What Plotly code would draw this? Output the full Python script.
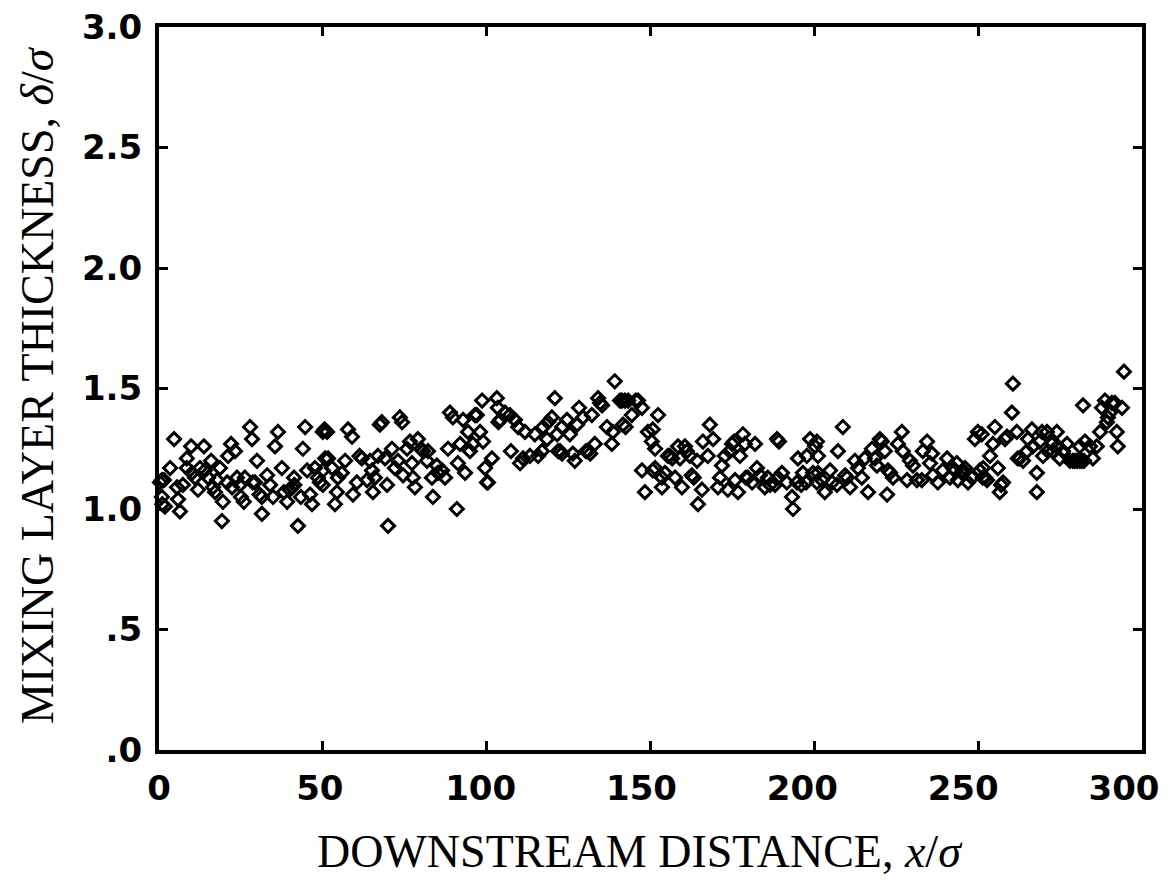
import plotly.graph_objects as go

# Mixing layer thickness vs downstream distance
x_pos = [
    0.9, 0.9, 1.8, 3.4, 4.6, 5.5, 5.8, 6.4, 7.3, 8.5, 8.5, 9.8, 10.1, 11.0, 11.9, 12.5,
    13.7, 14.0, 15.0, 15.9, 16.5, 17.1, 17.7, 18.6, 19.2, 19.5, 20.8, 21.1, 22.0, 22.3,
    23.2, 23.8, 24.7, 25.0, 25.9, 26.2, 27.8, 28.4, 29.3, 29.9, 31.4, 31.4, 33.0, 33.9,
    34.8, 35.4, 36.3, 37.5, 38.1, 39.1, 40.6, 41.2, 42.4, 43.3, 43.9, 44.6, 45.2, 46.1,
    46.7, 47.6, 48.5, 49.1, 50.0, 50.7,
    51.3, 50.0, 50.0, 51.6, 52.8, 53.7, 54.3, 54.6, 55.8, 56.8, 57.7, 58.9, 59.2, 60.4,
    61.9, 63.5, 64.4, 65.0, 65.3, 65.9, 66.8, 68.0, 69.0, 69.6, 69.9, 71.1, 72.0, 72.9,
    73.5, 74.2, 74.5, 75.7, 76.6, 77.2, 77.5, 78.1, 79.0, 80.6, 81.8, 82.1, 83.3, 83.6,
    84.8, 85.1, 86.4, 87.3, 88.2, 88.8, 89.7, 90.9, 91.2, 91.9, 92.8, 93.4, 94.3, 94.9,
    95.8, 97.0, 98.0, 98.6, 98.9, 99.5, 100.1,
    103.1, 103.4, 100.4, 101.6, 104.1, 105.6, 107.1, 107.4, 108.6, 109.6, 110.2, 111.1,
    111.7, 113.2, 114.7, 115.7, 116.9, 117.2, 118.4, 118.7, 119.9, 120.8, 121.5, 122.4,
    123.0, 124.5, 125.4, 126.3, 126.9, 127.6, 128.2, 129.4, 130.9, 132.1, 133.0, 134.0,
    135.2, 136.7, 138.2, 138.5, 139.1, 140.7, 141.6, 144.3, 146.2, 147.4, 147.4, 148.3,
    149.2, 150.4, 150.7,
    152.3, 150.7, 151.4, 151.4, 154.4, 153.5, 153.5, 155.9, 157.5, 158.4, 159.0, 159.6,
    160.5, 161.1, 162.0, 162.6, 164.2, 164.5, 165.7, 166.0, 167.5, 168.1, 169.1, 170.6,
    171.2, 171.8, 172.7, 173.6, 174.2, 174.9, 175.8, 176.7, 177.3, 178.2, 178.8, 179.7,
    181.0, 181.9, 182.5, 183.4, 184.9, 185.8, 188.6, 188.9, 190.1, 191.6, 193.2, 193.5,
    194.7, 195.0, 196.5, 197.7, 198.7, 199.6, 200.2, 200.8, 201.1,
    200.8, 201.1, 202.3, 203.2, 204.8, 205.4, 206.9, 207.2, 208.7, 210.0, 210.9, 212.4,
    213.3, 214.5, 215.4, 216.4, 217.6, 218.5, 219.1, 220.0, 221.5, 222.2, 222.5, 224.0,
    225.5, 226.7, 227.0, 228.3, 229.2, 230.1, 231.3, 232.8, 233.1, 234.4, 235.3, 235.9,
    236.2, 237.7, 239.2, 240.5, 241.4, 242.3, 243.5, 243.8, 245.0, 246.0, 246.9, 248.1,
    249.0, 249.9, 250.5, 251.4,
    251.1, 251.5, 252.1, 253.6, 254.5, 255.1, 256.0, 256.6, 257.6, 258.8, 260.3, 260.6,
    261.8, 262.7, 263.7, 264.9, 265.2, 266.4, 266.7, 267.9, 267.9, 268.8, 269.5, 269.8,
    271.0, 271.3, 272.5, 272.8, 274.0, 274.3, 274.9, 275.9, 277.1, 278.0, 278.9, 281.0,
    281.0, 282.0, 282.6, 284.1, 285.0, 286.2, 287.2, 287.8, 288.7, 289.3, 289.6, 290.2,
    290.8, 291.7, 292.3, 292.6, 293.9, 294.5,
    # overlapping markers that form the dark blobs
    1.5, 0.3, 1.0, 28.6, 30.7, 39.9, 41.3, 50.5, 61.2, 67.4, 80.0, 96.4, 103.6, 121.8,
    123.0, 130.3, 131.6, 134.6, 141.3, 142.2, 143.2, 142.4, 145.5, 155.3, 156.6, 163.2,
    175.5, 179.1, 189.2, 209.4, 220.6, 223.1, 242.9, 245.4, 252.7, 257.0, 258.2, 262.1,
    279.5, 280.2, 281.6, 282.3, 186.5, 188.0, 196.0, 197.5,
]

thickness = [
    1.12, 1.05, 1.01, 1.17, 1.29, 1.09, 1.04, 0.99, 1.10, 1.21, 1.17, 1.26, 1.15, 1.13, 1.08, 1.17,
    1.26, 1.16, 1.13, 1.20, 1.09, 1.07, 1.12, 1.17, 0.95, 1.03, 1.11, 1.22, 1.27, 1.09,
    1.24, 1.13, 1.10, 1.05, 1.03, 1.13, 1.34, 1.29, 1.11, 1.20, 1.05, 0.98, 1.14, 1.10,
    1.05, 1.26, 1.32, 1.17, 1.07, 1.03, 1.09, 1.13, 0.93, 1.05, 1.25, 1.34, 1.16, 1.06,
    1.02, 1.17, 1.13, 1.11, 1.32, 1.21,
    1.32, 1.16, 1.10, 1.21, 1.17, 1.02, 1.07, 1.13, 1.15, 1.20, 1.33, 1.30, 1.06, 1.11,
    1.21, 1.12, 1.20, 1.16, 1.07, 1.13, 1.22, 1.36, 1.21, 1.10, 0.93, 1.25, 1.17, 1.20,
    1.38, 1.36, 1.14, 1.25, 1.28, 1.19, 1.13, 1.09, 1.29, 1.24, 1.20, 1.24, 1.13, 1.05,
    1.18, 1.15, 1.16, 1.13, 1.25, 1.40, 1.38, 1.00, 1.19, 1.27, 1.37, 1.15, 1.32, 1.24,
    1.27, 1.39, 1.32, 1.45, 1.28, 1.17, 1.11,
    1.46, 1.42, 1.11, 1.21, 1.37, 1.40, 1.39, 1.24, 1.37, 1.34, 1.19, 1.21,
    1.32, 1.22, 1.31, 1.22, 1.24, 1.34, 1.29, 1.36, 1.38, 1.46, 1.31, 1.24,
    1.34, 1.37, 1.31, 1.23, 1.20, 1.35, 1.42, 1.38, 1.24, 1.39, 1.27, 1.46,
    1.43, 1.34, 1.27, 1.32, 1.53, 1.45, 1.35, 1.39, 1.45, 1.42, 1.16, 1.07,
    1.32, 1.28, 1.16,
    1.39, 1.33, 1.25, 1.17, 1.15, 1.13, 1.09, 1.22, 1.13, 1.26, 1.21, 1.09,
    1.26, 1.24, 1.22, 1.14, 1.20, 1.02, 1.08, 1.28, 1.22, 1.35, 1.29, 1.09,
    1.13, 1.18, 1.22, 1.08, 1.24, 1.27, 1.12, 1.07, 1.22, 1.31, 1.27, 1.13,
    1.11, 1.27, 1.17, 1.14, 1.09, 1.13, 1.29, 1.13, 1.15, 1.11, 1.05, 1.00,
    1.11, 1.21, 1.15, 1.22, 1.29, 1.15, 1.26, 1.11, 1.22,
    1.28, 1.15, 1.12, 1.07, 1.16, 1.11, 1.10, 1.24, 1.34, 1.13, 1.09, 1.20,
    1.17, 1.13, 1.21, 1.07, 1.25, 1.21, 1.18, 1.29, 1.24, 1.06, 1.16, 1.13,
    1.27, 1.32, 1.24, 1.12, 1.20, 1.18, 1.12, 1.12, 1.24, 1.28, 1.19, 1.23,
    1.14, 1.11, 1.16, 1.21, 1.13, 1.17, 1.19, 1.12, 1.15, 1.17, 1.11, 1.13,
    1.29, 1.32, 1.16, 1.13,
    1.31, 1.17, 1.13, 1.22, 1.27, 1.34, 1.17, 1.07, 1.11, 1.30, 1.40, 1.52,
    1.32, 1.21, 1.20, 1.24, 1.29, 1.33, 1.26, 1.15, 1.07, 1.28, 1.32, 1.22,
    1.32, 1.24, 1.27, 1.24, 1.32, 1.26, 1.21, 1.24, 1.27, 1.20, 1.20, 1.20,
    1.26, 1.43, 1.28, 1.26, 1.21, 1.26, 1.32, 1.42, 1.45, 1.36, 1.38, 1.40,
    1.44, 1.44, 1.32, 1.26, 1.42, 1.57,
    1.12, 1.11, 1.02, 1.11, 1.06, 1.08, 1.10, 1.33, 1.22, 1.35, 1.25, 1.39, 1.36, 1.24,
    1.23, 1.24, 1.23, 1.44, 1.45, 1.45, 1.45, 1.34, 1.45, 1.22, 1.21, 1.13,
    1.28, 1.13, 1.28, 1.14, 1.28, 1.15, 1.16, 1.16, 1.12, 1.10, 1.29, 1.21,
    1.20, 1.20, 1.20, 1.20, 1.10, 1.10, 1.10, 1.11,
]

x_ticks = [0, 50, 100, 150, 200, 250, 300]
y_ticks = [0, 0.5, 1.0, 1.5, 2.0, 2.5, 3.0]
y_tick_text = [".0", ".5", "1.0", "1.5", "2.0", "2.5", "3.0"]

tick_font = dict(family="DejaVu Sans", size=34, color="black", weight="bold")
title_font = dict(family="Liberation Serif", size=46, color="black")

fig = go.Figure()
fig.add_trace(go.Scatter(
    x=x_pos,
    y=thickness,
    mode="markers",
    marker=dict(symbol="diamond-open", size=10, color="black", line=dict(width=3, color="black")),
    showlegend=False,
    cliponaxis=False,
))
# empty trace so the label-only axis gets drawn
fig.add_trace(go.Scatter(x=[], y=[], xaxis="x2", yaxis="y", showlegend=False, hoverinfo="skip"))

frame = dict(
    showgrid=False,
    zeroline=False,
    showline=True,
    linecolor="black",
    linewidth=4,
    mirror="ticks",
    ticks="inside",
    ticklen=9,
    tickwidth=3,
    tickcolor="black",
    automargin=False,
)

# main x axis: frame + ticks only
fig.update_layout(xaxis=dict(range=[0, 300], tickvals=x_ticks, showticklabels=False, **frame))

# the printed x labels drift a bit left of their ticks in the original,
# so they sit on a slightly stretched overlay axis
fig.update_layout(xaxis2=dict(
    overlaying="x",
    anchor="y",
    side="bottom",
    range=[0, 305.6],
    tickvals=x_ticks,
    ticktext=[str(v) for v in x_ticks],
    tickfont=tick_font,
    ticklabelstandoff=15,
    ticklabeloverflow="allow",
    showgrid=False,
    zeroline=False,
    showline=False,
    ticks="",
    automargin=False,
))

fig.update_yaxes(
    range=[0, 3.0],
    tickvals=y_ticks,
    ticktext=y_tick_text,
    tickfont=tick_font,
    ticklabelstandoff=6,
    ticklabeloverflow="allow",
    **frame,
)

# axis titles as annotations so they sit where the original has them
fig.add_annotation(
    text="DOWNSTREAM DISTANCE, <i>x</i>/<i>σ</i>",
    xref="paper", yref="paper", x=0.489, y=-0.141,
    xanchor="center", yanchor="middle", showarrow=False, font=title_font,
)
fig.add_annotation(
    text="MIXING LAYER THICKNESS, <i>δ</i>/<i>σ</i>",
    xref="paper", yref="paper", x=-0.123, y=0.505, textangle=-90,
    xanchor="center", yanchor="middle", showarrow=False, font=title_font,
)

# page body adds an 8px margin, so the figure is a little smaller than the window
fig.update_layout(
    width=1162,
    height=873,
    margin=dict(l=151, r=28, t=19, b=131),
    plot_bgcolor="white",
    paper_bgcolor="white",
)

fig.write_html("out.html")
